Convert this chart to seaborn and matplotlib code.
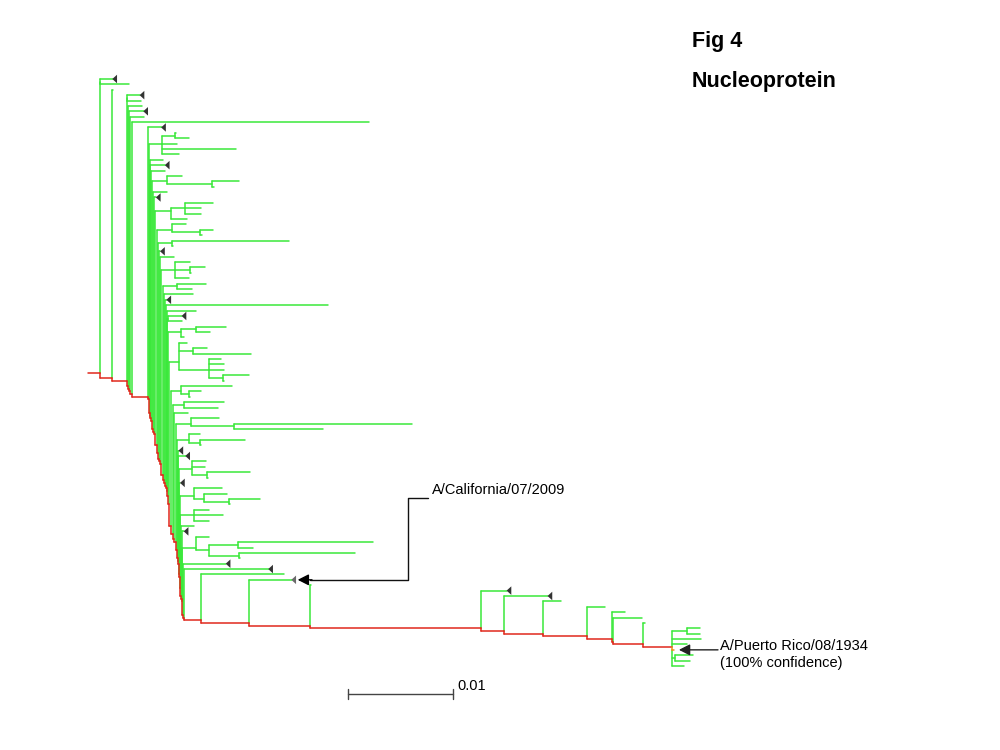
import numpy as np
import pandas as pd
import matplotlib
matplotlib.use("Agg")
import matplotlib.pyplot as plt
import seaborn as sns

# ---------------- data (branch lengths in 0.001 substitutions/site) ----------------
# Backbone: length of each backbone branch (first = root stem), and the sibling clade
# hanging off each backbone node (Newick; T = collapsed clade, C = A/California/07/2009)
backbone_len = [1.1, 1.2, 1.4, 0.1, 0.1, 0.1, 0.2,
                1.5, 0.1, 0.1, 0.05, 0.05, 0.1, 0.1, 0.1, 0.1, 0.2, 0.1, 0.1, 0.1,
                0.1, 0.1, 0.1, 0.1, 0.1, 0.1, 0.05, 0.05, 0.1, 0.2, 0.2, 0.1, 0.2,
                0.1, 0.05, 0.05, 0.05, 0.05, 0.05, 0.05, 0.1, 0.05, 0.05, 0.05, 0.05,
                1.7, 4.5, 5.8, 16.3, 2.2, 3.7, 4.2, 2.4, 0.1, 2.9]
sibling_clades = [
    "(T:1.2,x:2.8):0.05", "x:0.1", "(T:1.2,x:1.3):0.05", "x:1.3", "T:1.4", "x:1.3", "x:22.6",
    "T:1.3",
    "((x:0.1,x:1.3):1.3,x:1.5,x:7.1,x:1.7):1.2",
    "x:1.2", "T:1.4", "x:1.3",
    "(x:1.5,(x:2.6,x:0.2):4.3):1.4",
    "x:1.3", "T:0.2",
    "((x:2.7,x:1.6,x:1.6):1.3,x:1.5):1.5",
    "(x:1.3,(x:1.2,x:0.2):2.7):1.4",
    "(x:11.1,x:0.1):1.3",
    "T:0.1", "x:1.3",
    "(x:1.4,(x:1.4,x:0.1):1.4,x:1.3):1.3",
    "(x:2.7,x:1.4):1.4",
    "x:2.8", "T:0.2", "x:15.5", "x:2.8",
    "(T:1.3,x:1.3):0.1",
    "((x:2.8,x:1.3):1.4,x:0.2):1.3",
    "(x:0.7,(x:1.3,x:5.5):1.3,(x:1.2,x:1.5,x:1.5,(x:2.4,x:0.1):1.4):2.8):1.0",
    "(x:4.8,(x:1.2,x:0.1):0.7):1.0",
    "(x:3.9,x:3.3):1.0",
    "x:1.3",
    "(x:2.7,(x:17.0,x:8.5):4.1):1.4",
    "(x:1.1,(x:4.3,x:0.1):1.1):1.1",
    "T:0.1", "T:0.7",
    "(x:1.3,x:1.2,(x:4.1,x:0.1):1.4):1.3",
    "T:0.1",
    "(x:2.7,(x:2.2,(x:2.9,x:0.1):2.4):1.0):1.3",
    "(x:1.4,x:2.8,x:1.4):1.3",
    "x:1.2", "T:0.2",
    "(x:1.2,((x:12.8,x:1.4):2.8,(x:11.0,x:0.1):2.9):1.2):1.3",
    "T:4.1", "T:8.1",
    "x:7.9", "C:4.1", "x:0.1", "T:2.5", "T:4.2", "x:1.7", "x:1.7", "x:1.2", "x:2.8", "x:0.1",
]
pr8_stem = 2.7
pr8_clade = "((x:1.3,x:1.3):1.4,x:2.8,x:1.4,P:0.2,(x:1.7,x:1.4):0.3,x:1.2):0.1"

scale_bar_len = 10.0          # = 0.01 substitutions/site
scale_bar_label = "0.01"
title_lines = ["Fig 4", "Nucleoprotein"]
cal_label = "A/California/07/2009"
pr8_label = ["A/Puerto Rico/08/1934", "(100% confidence)"]

# ---------------- tree building ----------------
def parse_newick(s):
    pos = 0

    def read():
        nonlocal pos
        node = {"name": "", "len": 0.0, "children": []}
        if s[pos] == "(":
            pos += 1
            while True:
                node["children"].append(read())
                ch = s[pos]
                pos += 1
                if ch == ")":
                    break
        start = pos
        while pos < len(s) and s[pos] not in ":,()":
            pos += 1
        node["name"] = s[start:pos]
        if pos < len(s) and s[pos] == ":":
            pos += 1
            start = pos
            while pos < len(s) and s[pos] not in ",()":
                pos += 1
            node["len"] = float(s[start:pos])
        return node

    return read()


node = parse_newick(pr8_clade)
node["len"] = pr8_stem
for L, sib in reversed(list(zip(backbone_len, sibling_clades))):
    node = {"name": "", "len": L, "children": [parse_newick(sib), node]}
root = node

counter = [0]


def layout(n, x0):
    n["x"] = x0 + n["len"]
    if not n["children"]:
        n["y"] = counter[0]
        counter[0] += 1
        n["ys"] = [n["y"]]
        return
    ys = []
    for c in n["children"]:
        layout(c, n["x"])
        ys += c["ys"]
    n["ys"] = ys
    n["y"] = float(np.mean(ys))


layout(root, 0.0)
n_leaves = counter[0]


def mark(n):
    if n["name"] == "P":
        n["path"] = True
        return True
    res = [mark(c) for c in n["children"]]
    n["path"] = any(res)
    return n["path"]


mark(root)

segs = []


def add(x0, y0, x1, y1, kind):
    sid = len(segs)
    segs.append((sid, x0, y0, kind))
    segs.append((sid, x1, y1, kind))


tris = []


def draw(n):
    if not n["children"]:
        if n["name"] in ("T", "C"):
            tris.append((n["x"], n["y"], n["name"]))
        return
    cy = [c["y"] for c in n["children"]]
    lo, hi = min(cy), max(cy)
    pc = next((c for c in n["children"] if c["path"]), None)
    if pc is None:
        add(n["x"], lo, n["x"], hi, "clade")
    else:
        kind = "pr8" if pc["name"] == "P" else "path"
        a, b = sorted([n["y"], pc["y"]])
        add(n["x"], a, n["x"], b, kind)
        if lo < a:
            add(n["x"], lo, n["x"], a, "clade")
        if hi > b:
            add(n["x"], b, n["x"], hi, "clade")
    for c in n["children"]:
        if c["path"]:
            kind = "pr8" if c["name"] == "P" else "path"
        else:
            kind = "clade"
        add(n["x"], c["y"], c["x"], c["y"], kind)
        draw(c)


add(0.0, root["y"], root["x"], root["y"], "path")
draw(root)

df = pd.DataFrame(segs, columns=["seg", "x", "y", "kind"])
tri_df = pd.DataFrame(tris, columns=["x", "y", "name"])


def find(n, name):
    if n["name"] == name:
        return n
    for c in n["children"]:
        r = find(c, name)
        if r is not None:
            return r
    return None


cal = find(root, "C")
pr8 = find(root, "P")

# ---------------- figure ----------------
sns.set_theme(style="white")
plt.rcParams["font.family"] = ["Liberation Sans", "DejaVu Sans"]
plt.rcParams["text.color"] = "black"

W, H = 1000, 750
fig = plt.figure(figsize=(10, 7.5), dpi=100)
ax = fig.add_axes([0, 0, 1, 1])

ROOT_PX, PX_PER_UNIT = 88.0, 10.5
TOP_PX, BOT_PX = 79.0, 666.0
row_px = (BOT_PX - TOP_PX) / (n_leaves - 1)


def px2x(px):
    return (px - ROOT_PX) / PX_PER_UNIT


def py2y(py):
    return (py - TOP_PX) / row_px


sns.lineplot(data=df, x="x", y="y", units="seg", estimator=None, hue="kind",
             hue_order=["clade", "path", "pr8"],
             palette={"clade": "#3ae83a", "path": "#e0281c", "pr8": "#f0901c"},
             sort=False, legend=False, linewidth=1.1, ax=ax)

tri_marker = [(-0.55, 0.0), (0.55, 1.0), (0.55, -1.0), (-0.55, 0.0)]
tri_off = 2.0 / PX_PER_UNIT
tri_df["xm"] = tri_df["x"] + tri_off
sns.scatterplot(data=tri_df, x="xm", y="y", hue="name",
                palette={"T": "#333333", "C": "#6a6a6a"},
                marker=tri_marker, s=38, linewidth=0, legend=False, ax=ax, zorder=5)

ax.set_xlim(px2x(0), px2x(W))
ax.set_ylim(py2y(H), py2y(0))
ax.set_axis_off()

# scale bar
sb_x0 = px2x(348)
sb_y = py2y(694)
tick = 5 / row_px
ax.plot([sb_x0, sb_x0 + scale_bar_len], [sb_y, sb_y], color="#444444", lw=1.0)
ax.plot([sb_x0, sb_x0], [sb_y - tick, sb_y + tick], color="#444444", lw=1.0)
ax.plot([sb_x0 + scale_bar_len] * 2, [sb_y - tick, sb_y + tick], color="#444444", lw=1.0)
ax.text(sb_x0 + scale_bar_len + 4 / PX_PER_UNIT, sb_y - 8 / row_px, scale_bar_label,
        fontsize=10.5, ha="left", va="center", color="black")

arrow_style = "-|>,head_length=0.55,head_width=0.28"

# California annotation
cal_tip = cal["x"] + 6 / PX_PER_UNIT
elbow_x = px2x(408)
lab_y = py2y(498)
ax.plot([px2x(428), elbow_x, elbow_x, px2x(310)], [lab_y, lab_y, cal["y"], cal["y"]],
        color="#111111", lw=1.0)
ax.annotate("", xy=(cal_tip, cal["y"]), xytext=(px2x(312), cal["y"]),
            arrowprops=dict(arrowstyle=arrow_style, color="black", lw=1.0,
                            shrinkA=0, shrinkB=0))
ax.text(px2x(432), py2y(490), cal_label, fontsize=10.5, ha="left", va="center",
        color="black")

# PR8 annotation
pr8_tip = pr8["x"] + 5 / PX_PER_UNIT
ax.annotate("", xy=(pr8_tip, pr8["y"]), xytext=(px2x(718), pr8["y"]),
            arrowprops=dict(arrowstyle=arrow_style, color="#222222", lw=1.0,
                            shrinkA=0, shrinkB=0))
ax.text(px2x(720), pr8["y"] - 4 / row_px, pr8_label[0], fontsize=10.5, ha="left",
        va="center", color="black")
ax.text(px2x(720), pr8["y"] + 13 / row_px, pr8_label[1], fontsize=10.5, ha="left",
        va="center", color="black")

# titles
fig.text(692 / W, 1 - 42 / H, title_lines[0], fontsize=15.5, fontweight="bold",
         ha="left", va="center", color="black")
fig.text(692 / W, 1 - 82 / H, title_lines[1], fontsize=15.5, fontweight="bold",
         ha="left", va="center", color="black")

fig.savefig("out.png", dpi=100, facecolor="white")
